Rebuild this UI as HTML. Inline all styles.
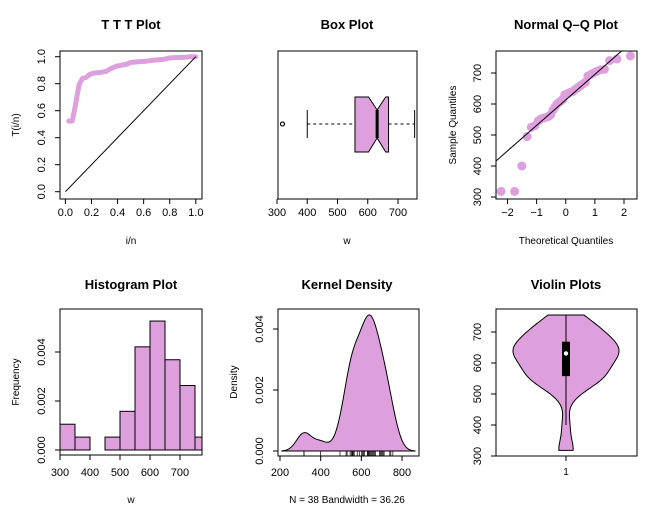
<!DOCTYPE html>
<html><head><meta charset="utf-8"><style>
body{margin:0;background:#fff}
svg{display:block;font-family:"Liberation Sans",sans-serif}
</style></head><body>
<svg id="c" width="649" height="515" viewBox="0 0 649 515"></svg>
<script>
const sample = [318,318,400,495,525,530,545,552,555,557,560,565,580,590,600,605,610,615,630,632,635,638,640,645,650,655,660,665,670,690,695,700,705,710,712,740,745,755];
const histBreaks = [300,350,400,450,500,550,600,650,700,750,800];
const bandwidth = 36.26;
const tttTicks = [0,0.2,0.4,0.6,0.8,1.0];
const boxTicks = [300,400,500,600,700];
const qqXTicks = [-2,-1,0,1,2];
const qqYTicks = [300,400,500,600,700];
const histXTicks = [300,400,500,600,700];
const histYTicks = [0,0.002,0.004];
const densXTicks = [200,400,600,800];
const densYTicks = [0,0.002,0.004];
const violinTicks = [300,400,500,600,700];

const NS="http://www.w3.org/2000/svg", svg=document.getElementById('c');
const FILL="#dda0dd";
function el(tag,attrs,parent){const e=document.createElementNS(NS,tag);for(const k in attrs)e.setAttribute(k,attrs[k]);(parent||svg).appendChild(e);return e;}
function txt(x,y,s,opt,parent){opt=opt||{};const t=el('text',{x:x,y:y,'font-size':opt.size||11,'text-anchor':'middle','font-weight':opt.bold?'bold':'normal',fill:'#000'},parent);if(opt.rot)t.setAttribute('transform','rotate(-90 '+x+' '+y+')');t.textContent=s;return t;}
function lin(d0,d1,r0,r1){return v=>r0+(v-d0)*(r1-r0)/(d1-d0);}
function frame(g,x0,y0,x1,y1,name){const r=el('rect',{x:x0,y:y0,width:x1-x0,height:y1-y0,fill:'none',stroke:'#000','stroke-width':1},g);}
function xaxis(g,ticks,sx,y,labY,fmt){const a=el('g',{},g);
 el('line',{x1:sx(ticks[0]),x2:sx(ticks[ticks.length-1]),y1:y,y2:y,stroke:'#000'},a);
 ticks.forEach(t=>{el('line',{x1:sx(t),x2:sx(t),y1:y,y2:y+5,stroke:'#000'},a);txt(sx(t),labY,fmt?fmt(t):String(t),{},a);});}
function yaxis(g,ticks,sy,x,labX,fmt){const a=el('g',{},g);
 el('line',{x1:x,x2:x,y1:sy(ticks[0]),y2:sy(ticks[ticks.length-1]),stroke:'#000'},a);
 ticks.forEach(t=>{el('line',{x1:x,x2:x-5,y1:sy(t),y2:sy(t),stroke:'#000'},a);txt(labX,sy(t),fmt?fmt(t):String(t),{rot:1},a);});}
function panel(name){const g=el('g',{});return g;}
function qnorm(p){const a=[-3.969683028665376e+01,2.209460984245205e+02,-2.759285104469687e+02,1.383577518672690e+02,-3.066479806614716e+01,2.506628277459239e+00],b=[-5.447609879822406e+01,1.615858368580409e+02,-1.556989798598866e+02,6.680131188771972e+01,-1.328068155288572e+01],c=[-7.784894002430293e-03,-3.223964580411365e-01,-2.400758277161838e+00,-2.549671010515298e+00,4.374664141464968e+00,2.938163982698783e+00],d=[7.784695709041462e-03,3.224671290700398e-01,2.445134137142996e+00,3.754408661907416e+00];let q,r;
 if(p<0.02425){q=Math.sqrt(-2*Math.log(p));return(((((c[0]*q+c[1])*q+c[2])*q+c[3])*q+c[4])*q+c[5])/((((d[0]*q+d[1])*q+d[2])*q+d[3])*q+1);}
 if(p>1-0.02425){q=Math.sqrt(-2*Math.log(1-p));return-(((((c[0]*q+c[1])*q+c[2])*q+c[3])*q+c[4])*q+c[5])/((((d[0]*q+d[1])*q+d[2])*q+d[3])*q+1);}
 q=p-0.5;r=q*q;return(((((a[0]*r+a[1])*r+a[2])*r+a[3])*r+a[4])*r+a[5])*q/(((((b[0]*r+b[1])*r+b[2])*r+b[3])*r+b[4])*r+1);}
function quant(arr,p){const s=[...arr].sort((a,b)=>a-b),h=(s.length-1)*p,lo=Math.floor(h);return s[lo]+(h-lo)*((s[lo+1]??s[lo])-s[lo]);}
const xs=[...sample].sort((a,b)=>a-b), n=xs.length;
function kde(x){let s=0;for(const v of xs){const z=(x-v)/bandwidth;s+=Math.exp(-0.5*z*z);}return s/(n*bandwidth*Math.sqrt(2*Math.PI));}
const f2=t=>t.toFixed(1), f3=t=>t.toFixed(3);

// Panel 1: TTT
{const g=panel('ttt-plot');txt(131,29,'T T T Plot',{bold:1,size:13},g);frame(g,60,51,202,199,'ttt-frame');
 const sx=lin(0,1,65.4,195.8),sy=lin(0,1,191.7,56.7);
 xaxis(g,tttTicks,sx,199,216,f2);yaxis(g,tttTicks,sy,60,45,f2);
 txt(131,244,'i/n',{size:10},g);txt(19,125,'T(i/n)',{rot:1,size:10},g);
 const tot=xs.reduce((a,b)=>a+b,0);let cum=0,pts=[];
 xs.forEach((v,i)=>{cum+=v;const T=(cum+(n-i-1)*v)/tot;pts.push(sx((i+1)/n)+','+sy(T));});
 const l=el('polyline',{points:pts.join(' '),fill:'none',stroke:FILL,'stroke-width':5,'stroke-linejoin':'round','stroke-linecap':'round'},g);
 const d=el('line',{x1:sx(0),y1:sy(0),x2:sx(1),y2:sy(1),stroke:'#000'},g);}

// Panel 2: Box
{const g=panel('box-plot');txt(347,29,'Box Plot',{bold:1,size:13},g);frame(g,278,51,417,199,'box-frame');
 const sx=lin(300,700,277,398);xaxis(g,boxTicks,sx,199,216);txt(347,244,'w',{size:10},g);
 const q1=quant(xs,.25),q3=quant(xs,.75),med=quant(xs,.5),iqr=q3-q1;
 const lo=xs.find(v=>v>=q1-1.5*iqr),hi=[...xs].reverse().find(v=>v<=q3+1.5*iqr);
 const nl=med-1.58*iqr/Math.sqrt(n),nh=med+1.58*iqr/Math.sqrt(n);
 const yc=124,yt=97,yb=152,yn1=110,yn2=138;
 const wk=el('g',{},g);
 el('line',{x1:sx(lo),x2:sx(q1),y1:yc,y2:yc,stroke:'#000','stroke-dasharray':'3,3'},wk);
 el('line',{x1:sx(q3),x2:sx(hi),y1:yc,y2:yc,stroke:'#000','stroke-dasharray':'3,3'},wk);
 el('line',{x1:sx(lo),x2:sx(lo),y1:110,y2:138,stroke:'#000'},wk);el('line',{x1:sx(hi),x2:sx(hi),y1:110,y2:138,stroke:'#000'},wk);
 const b=el('polygon',{points:[[sx(q1),yt],[sx(nl),yt],[sx(med),yn1],[sx(nh),yt],[sx(q3),yt],[sx(q3),yb],[sx(nh),yb],[sx(med),yn2],[sx(nl),yb],[sx(q1),yb]].map(p=>p.join(',')).join(' '),fill:FILL,stroke:'#000'},g);
 const m=el('line',{x1:sx(med),x2:sx(med),y1:yn1,y2:yn2,stroke:'#000','stroke-width':3},g);
 xs.filter(v=>v<lo||v>hi).forEach(v=>{const o=el('circle',{cx:sx(v),cy:yc,r:2,fill:'none',stroke:'#000'},g);});}

// Panel 3: QQ
{const g=panel('qq-plot');txt(566,29,'Normal Q\u2013Q Plot',{bold:1,size:13},g);
 const sx=lin(-2,2,507.5,624),sy=lin(300,700,197,73);
 const cp=el('clipPath',{id:'qqc'},g);el('rect',{x:496,y:51,width:141,height:148},cp);
 const th=xs.map((v,i)=>qnorm((i+0.5)/n));
 th.forEach((t,i)=>{const c=el('circle',{cx:sx(t),cy:sy(xs[i]),r:4.5,fill:FILL},g);});
 const y1=quant(xs,.25),y2=quant(xs,.75),x1=qnorm(.25),x2=qnorm(.75),sl=(y2-y1)/(x2-x1),ic=y1-sl*x1;
 const ql=el('line',{x1:sx(-3),y1:sy(ic-3*sl),x2:sx(3),y2:sy(ic+3*sl),stroke:'#000','clip-path':'url(#qqc)'},g);
 frame(g,496,51,637,199,'qq-frame');xaxis(g,qqXTicks,sx,199,216,t=>t<0?'\u2212'+(-t):String(t));yaxis(g,qqYTicks,sy,496,481);
 txt(566,244,'Theoretical Quantiles',{size:10},g);txt(456,125,'Sample Quantiles',{rot:1,size:10},g);}

// Panel 4: Histogram
{const g=panel('histogram-plot');txt(131,289,'Histogram Plot',{bold:1,size:13},g);
 const sx=lin(300,700,60,180),sy=lin(0,0.004,450,352);
 const cp=el('clipPath',{id:'hc'},g);el('rect',{x:60,y:309,width:142,height:146},cp);
 const hg=el('g',{'clip-path':'url(#hc)'},g);
 for(let i=0;i<histBreaks.length-1;i++){const a=histBreaks[i],b=histBreaks[i+1];const cnt=xs.filter(v=>(i===0?v>=a:v>a)&&v<=b).length;const d=cnt/(n*(b-a));
  const r=el('rect',{x:sx(a),y:sy(d),width:sx(b)-sx(a),height:sy(0)-sy(d),fill:FILL,stroke:'#000'},hg);}
 frame(g,60,309,202,455,'hist-frame');
 const a=el('g',{},g);
 histXTicks.forEach(t=>{el('line',{x1:sx(t),x2:sx(t),y1:455,y2:460,stroke:'#000'},a);txt(sx(t),476,String(t),{},a);});
 yaxis(g,histYTicks,sy,60,45,f3);txt(131,503,'w',{size:10},g);txt(19,382,'Frequency',{rot:1,size:10},g);}

// Panel 5: Density
{const g=panel('kernel-density-plot');txt(347,289,'Kernel Density',{bold:1,size:13},g);
 const sx=lin(200,800,280,402),sy=lin(0,0.004,451,329);
 const lo=xs[0]-3*bandwidth,hi=xs[n-1]+3*bandwidth;let pts=[];
 for(let k=0;k<=200;k++){const x=lo+(hi-lo)*k/200;pts.push(sx(x)+','+sy(kde(x)));}
 const p=el('polygon',{points:sx(lo)+','+sy(0)+' '+pts.join(' ')+' '+sx(hi)+','+sy(0),fill:FILL,stroke:'#000'},g);
 const r=el('g',{},g);
 xs.forEach(v=>el('line',{x1:sx(v),x2:sx(v),y1:451,y2:456,stroke:'#000','stroke-width':0.7},r));
 frame(g,278,309,419,456,'density-frame');xaxis(g,densXTicks,sx,456,476);yaxis(g,densYTicks,sy,278,263,f3);
 txt(347,503,'N = 38   Bandwidth = 36.26',{size:10},g);txt(237,382,'Density',{rot:1,size:10},g);}

// Panel 6: Violin
{const g=panel('violin-plot');txt(566,289,'Violin Plots',{bold:1,size:13},g);
 const sy=lin(300,700,456,332),cx=566,w=53;
 const ys=[];for(let k=0;k<=100;k++)ys.push(xs[0]+(xs[n-1]-xs[0])*k/100);
 const mx=Math.max(...ys.map(kde));
 const right=ys.map(y=>(cx+w*kde(y)/mx)+','+sy(y)),left=ys.slice().reverse().map(y=>(cx-w*kde(y)/mx)+','+sy(y));
 const v=el('polygon',{points:right.concat(left).join(' '),fill:FILL,stroke:'#000'},g);
 const q1=quant(xs,.25),q3=quant(xs,.75),med=quant(xs,.5),iqr=q3-q1;
 const wlo=xs.find(x=>x>=q1-1.5*iqr),whi=[...xs].reverse().find(x=>x<=q3+1.5*iqr);
 const wl=el('line',{x1:cx,x2:cx,y1:sy(wlo),y2:sy(whi),stroke:'#000'},g);
 const b=el('rect',{x:cx-4,y:sy(q3),width:8,height:sy(q1)-sy(q3),fill:'#000'},g);
 const m=el('circle',{cx:cx,cy:sy(med),r:2.2,fill:'#fff'},g);
 frame(g,496,309,637,456,'violin-frame');yaxis(g,violinTicks,sy,496,481);
 el('line',{x1:cx,x2:cx,y1:456,y2:461,stroke:'#000'},g);txt(cx,475,'1',{size:10},g);}
</script>
</body></html>
